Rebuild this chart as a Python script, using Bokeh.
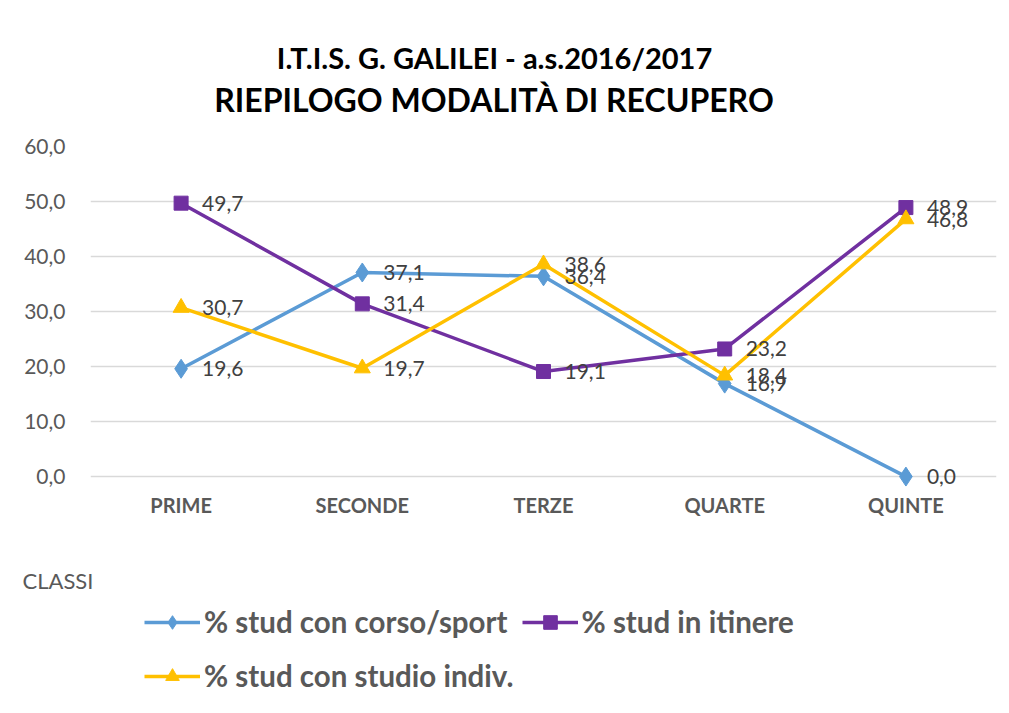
from bokeh.plotting import figure
from bokeh.layouts import column
from bokeh.models import (ColumnDataSource, FactorRange, Range1d, FixedTicker,
                          CustomJSTickFormatter, LabelSet, Label, Legend, LegendItem)
from bokeh.core.properties import value
from bokeh.embed import file_html
from bokeh.resources import INLINE

categories = ["PRIME", "SECONDE", "TERZE", "QUARTE", "QUINTE"]
corso_sport = [19.6, 37.1, 36.4, 16.9, 0.0]
in_itinere = [49.7, 31.4, 19.1, 23.2, 48.9]
studio_indiv = [30.7, 19.7, 38.6, 18.4, 46.8]
series_names = ["% stud con corso/sport", "% stud in itinere", "% stud con studio indiv."]
y_ticks = [0, 10, 20, 30, 40, 50, 60]
title_1 = "I.T.I.S. G. GALILEI - a.s.2016/2017"
title_2 = "RIEPILOGO MODALITÀ DI RECUPERO"
x_caption = "CLASSI"

FONT = "Lato"
GRAY = "#595959"
W = 1000

def unalign(f):
    if "frame_align" in f.properties():
        f.frame_align = False

# ---- title block
p0 = figure(width=W, height=130, x_range=Range1d(0, W), y_range=Range1d(0, 130),
            x_axis_location=None, y_axis_location=None, output_backend="svg",
            toolbar_location=None, min_border=0)
p0.grid.visible = False
p0.outline_line_color = None
unalign(p0)
p0.add_layout(Label(x=494, y=73, text=title_1, text_align="center", text_baseline="middle",
                    text_font=FONT, text_font_size="29px", text_font_style="bold", text_color="black"))
p0.add_layout(Label(x=494, y=31, text=title_2, text_align="center", text_baseline="middle",
                    text_font=FONT, text_font_size="32px", text_font_style="bold", text_color="black"))

# ---- main chart
p = figure(x_range=FactorRange(*categories, range_padding=0), y_range=Range1d(-1.8, 60),
           width=W, height=410, output_backend="svg", toolbar_location=None,
           min_border_left=90, min_border_right=4, min_border_top=16, min_border_bottom=54)
p.outline_line_color = None
p.xgrid.grid_line_color = None
p.ygrid.grid_line_color = "#D9D9D9"
p.ygrid.grid_line_width = 1.5

p.yaxis.ticker = FixedTicker(ticks=y_ticks)
p.yaxis.formatter = CustomJSTickFormatter(code="return tick.toFixed(1).replace('.', ',');")
for ax in (p.xaxis[0], p.yaxis[0]):
    ax.axis_line_color = None
    ax.major_tick_line_color = None
    ax.minor_tick_line_color = None
    ax.major_label_text_color = GRAY
    ax.major_label_text_font = FONT
p.yaxis.major_label_text_font_size = "21px"
p.yaxis.major_label_standoff = 19
p.xaxis.major_label_text_font_size = "20px"
p.xaxis.major_label_text_font_style = "bold"
p.xaxis.major_label_standoff = 0

def fmt(v):
    return f"{v:.1f}".replace(".", ",")

specs = [
    (corso_sport, "#5B9BD5", "diamond", 19),
    (in_itinere, "#7030A0", "square", 14),
    (studio_indiv, "#FFC000", "triangle", 16),
]
sources = []
for (vals, color, marker, size) in specs:
    src = ColumnDataSource(dict(x=categories, y=vals, lab=[fmt(v) for v in vals]))
    sources.append(src)
    p.line("x", "y", source=src, line_color=color, line_width=3.5)
    p.scatter("x", "y", source=src, marker=marker, size=size, fill_color=color, line_color=color)
    p.add_layout(LabelSet(x="x", y="y", text="lab", source=src, x_offset=21,
                          text_baseline="middle", text_font=value(FONT), text_font_size="21px",
                          text_color="#404040"))

# ---- caption + legend block (series re-drawn outside the visible y range, legend only)
p2 = figure(width=W, height=165, x_range=FactorRange(*categories, range_padding=0),
            y_range=Range1d(1000, 1165), x_axis_location=None, y_axis_location=None,
            output_backend="svg", toolbar_location=None, min_border=0)
p2.grid.visible = False
p2.outline_line_color = None
unalign(p2)
p2.add_layout(Label(x=22, y=125, x_units="screen", y_units="screen", text=x_caption,
                    text_align="left", text_baseline="middle",
                    text_font=FONT, text_font_size="22px", text_color=GRAY))
items = []
for (vals, color, marker, size), name, src in zip(specs, series_names, sources):
    ln = p2.line("x", "y", source=src, line_color=color, line_width=3.5)
    sc = p2.scatter("x", "y", source=src, marker=marker, size=size, fill_color=color, line_color=color)
    items.append(LegendItem(label=name, renderers=[ln, sc]))

def make_legend(its, loc):
    return Legend(items=its, location=loc, orientation="horizontal",
                  label_text_font=FONT, label_text_font_size="29.5px", label_text_font_style="bold",
                  label_text_color=GRAY, glyph_width=56, glyph_height=34, label_standoff=4,
                  spacing=14, padding=0, margin=0, background_fill_alpha=0,
                  border_line_color=None, label_height=24)

p2.add_layout(make_legend(items[:2], (144, 66)))
p2.add_layout(make_legend(items[2:], (144, 12)))

layout = column(p0, p, p2, spacing=0)
open("out.html", "w").write(file_html(layout, INLINE))
